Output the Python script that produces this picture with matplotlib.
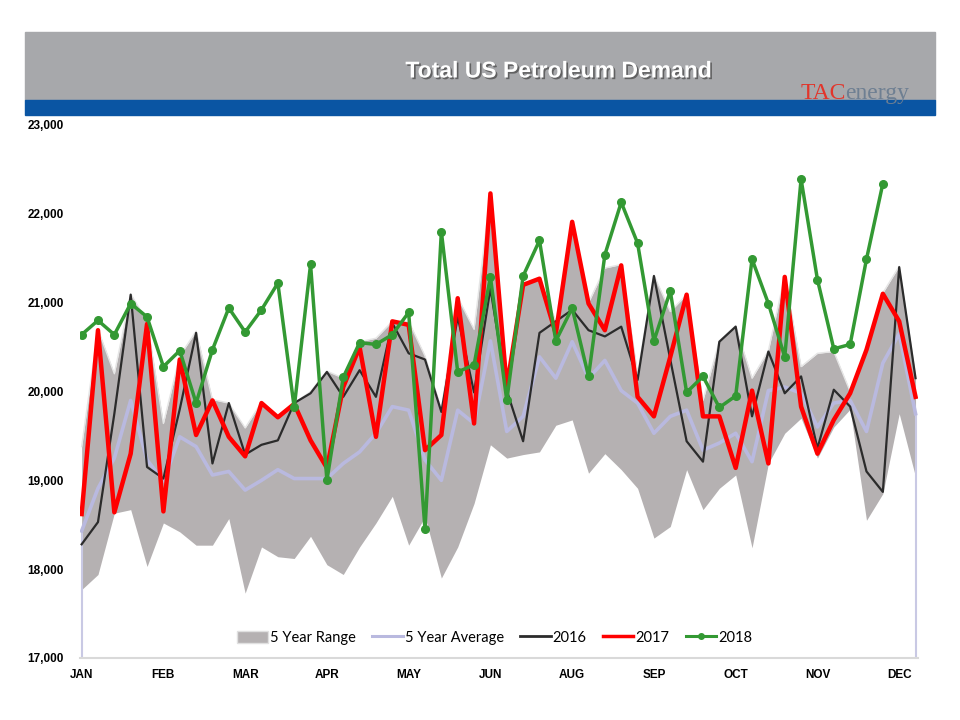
import numpy as np
from matplotlib import pyplot as plt
from matplotlib.patches import Rectangle, Patch
from matplotlib.lines import Line2D
import matplotlib.patheffects as pe

# weekly values (thousand b/d)
weeks = np.arange(52)
month_ticks = [0, 5, 10, 15, 20, 25, 30, 35, 40, 45, 50]
month_labels = ['JAN', 'FEB', 'MAR', 'APR', 'MAY', 'JUN', 'AUG', 'SEP', 'OCT', 'NOV', 'DEC']

range_max = [19380, 20700, 20200, 21100, 20790, 19640, 20400, 20680, 19910, 19870,
             19590, 19880, 19720, 19870, 20000, 20230, 20150, 20560, 20600, 20790,
             20790, 20400, 19800, 21060, 20700, 22240, 20060, 21210, 21280, 20790,
             21920, 21000, 21390, 21430, 20200, 21310, 20900, 21090, 19900, 20570,
             20740, 20150, 20460, 21300, 20280, 20430, 20450, 20000, 20480, 21110,
             21410, 20170]
range_min = [17770, 17940, 18630, 18670, 18030, 18520, 18420, 18270, 18270, 18570,
             17730, 18250, 18140, 18120, 18370, 18050, 17940, 18250, 18520, 18820,
             18270, 18590, 17900, 18250, 18740, 19400, 19250, 19290, 19320, 19620,
             19680, 19080, 19300, 19120, 18910, 18350, 18480, 19120, 18670, 18910,
             19060, 18240, 19190, 19530, 19700, 19250, 19600, 19800, 18550, 18850,
             19750, 19040]
avg5 = [18430, 18910, 19250, 19900, 19230, 18990, 19490, 19380, 19060, 19100,
        18890, 19000, 19120, 19020, 19020, 19020, 19190, 19320, 19530, 19830,
        19790, 19230, 19000, 19790, 19640, 20570, 19550, 19720, 20390, 20150,
        20560, 20150, 20350, 20010, 19870, 19530, 19720, 19790, 19340, 19420,
        19530, 19210, 20010, 20050, 19980, 19600, 19870, 19900, 19550, 20320,
        20650, 19750]
y2016 = [18280, 18530, 19750, 21090, 19150, 19020, 19800, 20660, 19190, 19870,
         19290, 19400, 19450, 19870, 19980, 20220, 19940, 20240, 19940, 20770,
         20430, 20360, 19770, 20840, 19990, 21160, 20010, 19440, 20660, 20790,
         20920, 20690, 20620, 20730, 20130, 21300, 20360, 19440, 19210, 20560,
         20730, 19720, 20450, 19980, 20170, 19360, 20020, 19830, 19100, 18870,
         21400, 20150]
y2017 = [18620, 20690, 18640, 19300, 20760, 18650, 20360, 19510, 19900, 19490,
         19270, 19870, 19710, 19860, 19450, 19140, 20050, 20500, 19490, 20790,
         20750, 19340, 19510, 21050, 19640, 22230, 20050, 21200, 21270, 20650,
         21910, 20990, 20690, 21420, 19940, 19720, 20390, 21090, 19720, 19720,
         19140, 20010, 19190, 21290, 19830, 19300, 19680, 19980, 20470, 21100,
         20790, 19940]
y2018 = [20640, 20800, 20640, 20990, 20840, 20280, 20460, 19870, 20470, 20940,
         20670, 20920, 21220, 19820, 21430, 19000, 20160, 20550, 20530, 20640,
         20890, 18450, 21800, 20220, 20300, 21290, 19900, 21300, 21700, 20570,
         20940, 20170, 21540, 22130, 21670, 20570, 21130, 19990, 20170, 19820,
         19950, 21490, 20990, 20390, 22390, 21260, 20480, 20530, 21490, 22340]

c_range = '#B5B1B2'
c_avg = '#B9B9DF'
c_2016 = '#2B2B2B'
c_2017 = '#FF0000'
c_2018 = '#339933'

fig = plt.figure(figsize=(9.6, 7.2), dpi=100)

# header banner
fig.patches.append(Rectangle((25/960, 1-100/720), 910/960, 68/720, transform=fig.transFigure,
                             color='#A7A8AB', zorder=0))
fig.patches.append(Rectangle((25/960, 1-115/720), 910/960, 15/720, transform=fig.transFigure,
                             color='#0A55A3', zorder=0))
fig.text(558/960, 1-71/720, 'Total US Petroleum Demand', color='white', fontsize=16.5,
         fontweight='bold', family='Liberation Sans', ha='center', va='center',
         path_effects=[pe.withSimplePatchShadow(offset=(1.2, -1.2), shadow_rgbFace='#444444', alpha=0.7)])
# logo
fig.text(801/960, 1-99/720, 'TAC', color='#E2352B', fontsize=17,
         family='Liberation Serif', ha='left', va='baseline')
fig.text(845/960, 1-99/720, 'energy', color='#6E7F92', fontsize=17,
         family='Liberation Serif', ha='left', va='baseline')

ax = fig.add_axes([80/960, 1-658/720, 838/960, 533/720])

# 5 year range + average
ax.fill_between(weeks, range_min, range_max, color=c_range, lw=0, zorder=1)
ax.plot(weeks, range_max, color='#E6E6E6', lw=1, zorder=1.5)
ax.vlines([weeks[0], weeks[-1]], 17000, [avg5[0], avg5[-1]], color='#C9C9E4', lw=1.5, zorder=1.6)
ax.plot(weeks, avg5, color=c_avg, lw=2.6, zorder=2)

ax.plot(weeks, y2016, color=c_2016, lw=1.6, zorder=3)
ax.plot(weeks, y2017, color=c_2017, lw=3.2, zorder=4)
ax.plot(weeks[:len(y2018)], y2018, color=c_2018, lw=2.5, marker='o', ms=5.5, zorder=5)

ax.set_xlim(-0.1, 51.15)
ax.set_ylim(17000, 23000)
ax.set_yticks(range(17000, 23001, 1000))
ax.set_yticklabels(['{:,}'.format(v) for v in range(17000, 23001, 1000)],
                   fontsize=8.5, fontweight='bold', family='Liberation Sans')
ax.set_xticks(month_ticks)
ax.set_xticklabels(month_labels, fontsize=8.5, fontweight='bold', family='Liberation Sans')
for lbl in ax.get_yticklabels():
    lbl.set_horizontalalignment('left')
ax.tick_params(axis='both', length=0)
ax.tick_params(axis='y', pad=38)
ax.tick_params(axis='x', pad=8)

for s in ['top', 'left', 'right']:
    ax.spines[s].set_visible(False)
ax.spines['bottom'].set_color('#D9D9D9')
ax.spines['bottom'].set_linewidth(1.5)

handles = [Patch(facecolor=c_range, edgecolor='#E0E0E0', lw=1),
           Line2D([], [], color=c_avg, lw=2.2),
           Line2D([], [], color=c_2016, lw=2),
           Line2D([], [], color=c_2017, lw=2.5),
           Line2D([], [], color=c_2018, lw=2.2, marker='o', ms=4)]
names = ['5 Year Range', '5 Year Average', '2016', '2017', '2018']
ax.legend(handles, names, loc='center', bbox_to_anchor=(0.495, 0.038), ncol=5, frameon=False,
          prop={'family': 'Lato', 'size': 10.5}, handlelength=2.1, handletextpad=0.15,
          columnspacing=1.1, handleheight=0.9)

plt.savefig('out.png', dpi=100)
